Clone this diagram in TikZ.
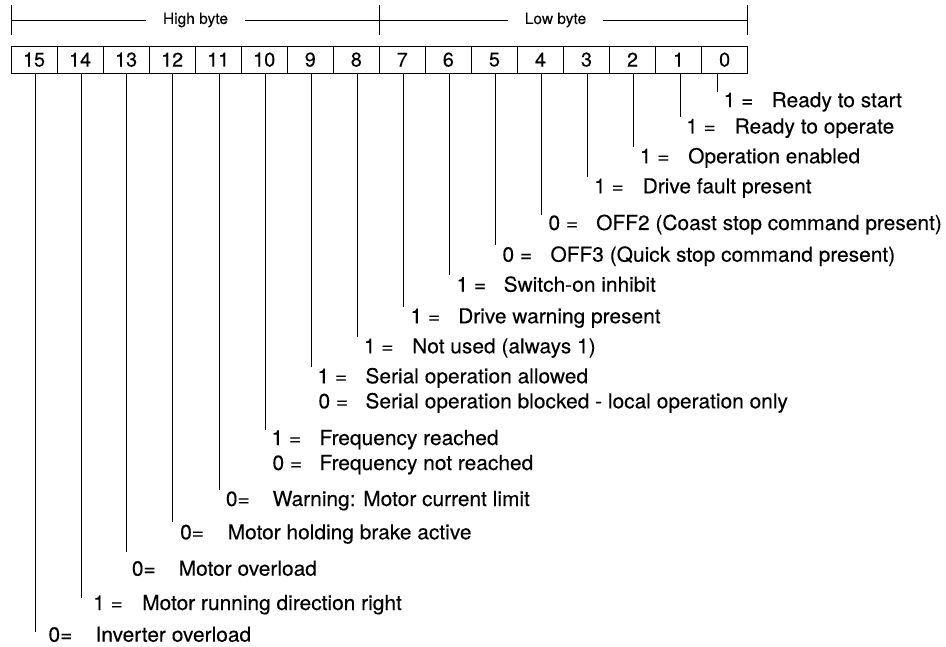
\documentclass[tikz,border=0pt]{standalone}
\usepackage{fontspec}
\newfontfamily\labfont{TeX Gyre Heros}[FakeBold=0.2,FakeStretch=1.015]
\newfontfamily\digfont{TeX Gyre Heros}[FakeBold=0.2]
\newfontfamily\headfont{TeX Gyre Heros}[FakeBold=0.1]
\begin{document}
\begin{tikzpicture}[x=1pt,y=-1pt,
  cell/.style={draw, line width=0.9pt, minimum width=46.04pt, minimum height=27pt, inner sep=0pt, font=\digfont\fontsize{19.8}{22}\selectfont},
  lab/.style={anchor=base west, inner sep=0pt, font=\labfont\fontsize{20.6}{22}\selectfont},
  head/.style={inner xsep=17pt, inner ysep=2pt, font=\headfont\fontsize{15.5}{18}\selectfont},
  conn/.style={line width=0.8pt},
  brk/.style={line width=0.8pt}]
\useasboundingbox (0,0) rectangle (946,647);
% cells
\foreach \b in {0,...,15} {
  \pgfmathsetmacro{\xx}{11+46.04*(15-\b+0.5)}
  \node[cell] (c\b) at (\xx,59.65) {\b};
}
% bracket
\coordinate (tl) at (11,20);
\coordinate (tm) at (379,20);
\coordinate (tr) at (747.6,20);
\draw[brk] (11,5) -- (11,35);
\draw[brk] (379,5) -- (379,35);
\draw[brk] (747.6,5) -- (747.6,35);
\node[head] (hb) at (195.5,20) {High byte};
\node[head] (lb) at (555.5,20) {Low byte};
\draw[brk] (tl) -- (hb);
\draw[brk] (hb) -- (tm);
\draw[brk] (tm) -- (lb);
\draw[brk] (lb) -- (tr);
% line end points
\coordinate (e0) at (717,91.7);
\coordinate (e1) at (680,116.7);
\coordinate (e2) at (633.3,147);
\coordinate (e3) at (587.3,177);
\coordinate (e4) at (541.7,215);
\coordinate (e5) at (495.7,245);
\coordinate (e6) at (449.3,275);
\coordinate (e7) at (403.3,307.3);
\coordinate (e8) at (357.3,336.7);
\coordinate (e9) at (311,366.7);
\coordinate (e10) at (265,430);
\coordinate (e11) at (219,490);
\coordinate (e12) at (172.7,521.7);
\coordinate (e13) at (126.7,551.7);
\coordinate (e14) at (81,598);
\coordinate (e15) at (35,631.7);
\foreach \b in {0,...,15} {
  \draw[conn] (c\b.south -| e\b) -- (e\b);
}
% labels
\node[lab] (p0) at (723.5,107.2) {1 =};
\node[lab] (t0) at (771.5,107.2) {Ready to start};
\node[lab] (p1) at (686,133.5) {1 =};
\node[lab] (t1) at (734.5,133.5) {Ready to operate};
\node[lab] (p2) at (639.7,163.3) {1 =};
\node[lab] (t2) at (688,163.3) {Operation enabled};
\node[lab] (p3) at (594,193.3) {1 =};
\node[lab] (t3) at (642.5,193.3) {Drive fault present};
\node[lab] (p4) at (548.3,230) {0 =};
\node[lab] (t4) at (596,230) {OFF2 (Coast stop command present)};
\node[lab] (p5) at (502.3,261.7) {0 =};
\node[lab] (t5) at (550.3,261.7) {OFF3 (Quick stop command present)};
\node[lab] (p6) at (456.3,291.7) {1 =};
\node[lab] (t6) at (503.5,291.7) {Switch-on inhibit};
\node[lab] (p7) at (410.3,323.3) {1 =};
\node[lab] (t7) at (458,323.3) {Drive warning present};
\node[lab] (p8) at (363.7,353.3) {1 =};
\node[lab] (t8) at (412,353.3) {Not used (always 1)};
\node[lab] (p9a) at (317.3,383.3) {1 =};
\node[lab] (t9a) at (365.3,383.3) {Serial operation allowed};
\node[lab] (p9b) at (318.3,408.3) {0 =};
\node[lab] (t9b) at (365.3,408.3) {Serial operation blocked - local operation only};
\node[lab] (p10a) at (271.3,445) {1 =};
\node[lab] (t10a) at (319.3,445) {Frequency reached};
\node[lab] (p10b) at (272.3,470) {0 =};
\node[lab] (t10b) at (319.3,470) {Frequency not reached};
\node[lab] (p11) at (225.7,506) {0=};
\node[lab] (t11) at (272.5,506) {Warning: Motor current limit};
\node[lab] (p12) at (180,539.3) {0=};
\node[lab] (t12) at (227.5,539.3) {Motor holding brake active};
\node[lab] (p13) at (131.7,575.7) {0=};
\node[lab] (t13) at (178.5,575.7) {Motor overload};
\node[lab] (p14) at (93,610) {1 =};
\node[lab] (t14) at (142,610) {Motor running direction right};
\node[lab] (p15) at (48.3,641.7) {0=};
\node[lab] (t15) at (95.3,641.7) {Inverter overload};
\end{tikzpicture}
\end{document}
